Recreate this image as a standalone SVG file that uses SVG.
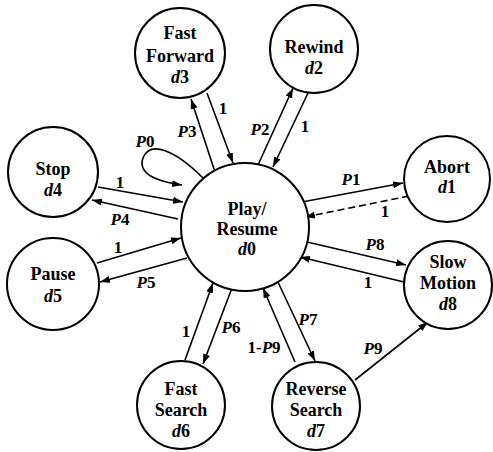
<svg xmlns="http://www.w3.org/2000/svg" width="493" height="452" viewBox="0 0 493 452">
<style>
.node circle{fill:#fff;stroke:#000;stroke-width:2}
text{font-family:"Liberation Serif","Times New Roman",serif;font-weight:bold;fill:#000}
.nt{font-size:18px;text-anchor:middle}
.lb{font-size:17px;text-anchor:middle}
.i{font-style:italic}
.c line,.c path{stroke:#000;stroke-width:1.6;fill:none}
.d{stroke-dasharray:7,4}
</style>
<defs>
<marker id="a" markerUnits="userSpaceOnUse" markerWidth="10" markerHeight="7" refX="10" refY="3.5" orient="auto">
<path d="M0,0 L10,3.5 L0,7 z" fill="#000"/>
</marker>
</defs>
<g id="connectors" class="c">
<line x1="215" y1="172" x2="191" y2="99" marker-end="url(#a)"/>
<line x1="207" y1="93" x2="233" y2="163" marker-end="url(#a)"/>
<line x1="258" y1="165" x2="293" y2="88" marker-end="url(#a)"/>
<line x1="308" y1="93" x2="273" y2="167" marker-end="url(#a)"/>
<line x1="98" y1="187" x2="183" y2="202" marker-end="url(#a)"/>
<line x1="178" y1="219" x2="92" y2="200" marker-end="url(#a)"/>
<line x1="97" y1="263" x2="181" y2="238" marker-end="url(#a)"/>
<line x1="187" y1="258" x2="100" y2="282" marker-end="url(#a)"/>
<line x1="302" y1="202" x2="403" y2="183" marker-end="url(#a)"/>
<line class="d" x1="409" y1="196" x2="305" y2="217" marker-end="url(#a)"/>
<line x1="307" y1="242" x2="406" y2="265" marker-end="url(#a)"/>
<line x1="404" y1="282" x2="300" y2="257" marker-end="url(#a)"/>
<line x1="185" y1="360" x2="213" y2="283" marker-end="url(#a)"/>
<line x1="232" y1="288" x2="203" y2="364" marker-end="url(#a)"/>
<line x1="295" y1="362" x2="263" y2="288" marker-end="url(#a)"/>
<line x1="277" y1="280" x2="315" y2="361" marker-end="url(#a)"/>
<line x1="355" y1="380" x2="428" y2="322" marker-end="url(#a)"/>
<path d="M203,178 C175,150 150,140 143,158 C137,175 160,182 182,185" marker-end="url(#a)"/>
</g>
<g id="labels">
<text class="lb" x="187" y="137"><tspan class="i">P</tspan>3</text>
<text class="lb" x="223" y="114">1</text>
<text class="lb" x="260" y="135"><tspan class="i">P</tspan>2</text>
<text class="lb" x="305" y="132">1</text>
<text class="lb" x="145" y="147"><tspan class="i">P</tspan>0</text>
<text class="lb" x="120" y="188">1</text>
<text class="lb" x="120" y="225"><tspan class="i">P</tspan>4</text>
<text class="lb" x="118" y="253">1</text>
<text class="lb" x="146" y="288"><tspan class="i">P</tspan>5</text>
<text class="lb" x="351" y="185"><tspan class="i">P</tspan>1</text>
<text class="lb" x="385" y="217">1</text>
<text class="lb" x="375" y="250"><tspan class="i">P</tspan>8</text>
<text class="lb" x="368" y="288">1</text>
<text class="lb" x="373" y="354"><tspan class="i">P</tspan>9</text>
<text class="lb" x="186" y="337">1</text>
<text class="lb" x="231" y="333"><tspan class="i">P</tspan>6</text>
<text class="lb" x="264" y="353">1-<tspan class="i">P</tspan>9</text>
<text class="lb" x="308" y="325"><tspan class="i">P</tspan>7</text>
</g>
<g id="d0" class="node">
<circle cx="245" cy="227" r="64"/>
<text class="nt" x="247" y="215">Play/</text>
<text class="nt" x="247" y="235">Resume</text>
<text class="nt" x="247" y="255"><tspan class="i">d</tspan>0</text>
</g>
<g id="d3" class="node">
<circle cx="180" cy="53" r="45"/>
<text class="nt" x="180" y="39">Fast</text>
<text class="nt" x="180" y="62">Forward</text>
<text class="nt" x="180" y="83"><tspan class="i">d</tspan>3</text>
</g>
<g id="d2" class="node">
<circle cx="314" cy="49" r="44"/>
<text class="nt" x="314" y="53">Rewind</text>
<text class="nt" x="314" y="74"><tspan class="i">d</tspan>2</text>
</g>
<g id="d4" class="node">
<circle cx="53" cy="172" r="45"/>
<text class="nt" x="53" y="175">Stop</text>
<text class="nt" x="53" y="196"><tspan class="i">d</tspan>4</text>
</g>
<g id="d5" class="node">
<circle cx="53" cy="284" r="46"/>
<text class="nt" x="53" y="280">Pause</text>
<text class="nt" x="53" y="302"><tspan class="i">d</tspan>5</text>
</g>
<g id="d1" class="node">
<circle cx="447" cy="179" r="43"/>
<text class="nt" x="447" y="173">Abort</text>
<text class="nt" x="447" y="193"><tspan class="i">d</tspan>1</text>
</g>
<g id="d8" class="node">
<circle cx="448" cy="285" r="44"/>
<text class="nt" x="448" y="268">Slow</text>
<text class="nt" x="448" y="289">Motion</text>
<text class="nt" x="448" y="310"><tspan class="i">d</tspan>8</text>
</g>
<g id="d6" class="node">
<circle cx="181" cy="405" r="44"/>
<text class="nt" x="181" y="395">Fast</text>
<text class="nt" x="181" y="416">Search</text>
<text class="nt" x="181" y="437"><tspan class="i">d</tspan>6</text>
</g>
<g id="d7" class="node">
<circle cx="316" cy="406" r="44"/>
<text class="nt" x="316" y="395">Reverse</text>
<text class="nt" x="316" y="416">Search</text>
<text class="nt" x="316" y="437"><tspan class="i">d</tspan>7</text>
</g>
</svg>
